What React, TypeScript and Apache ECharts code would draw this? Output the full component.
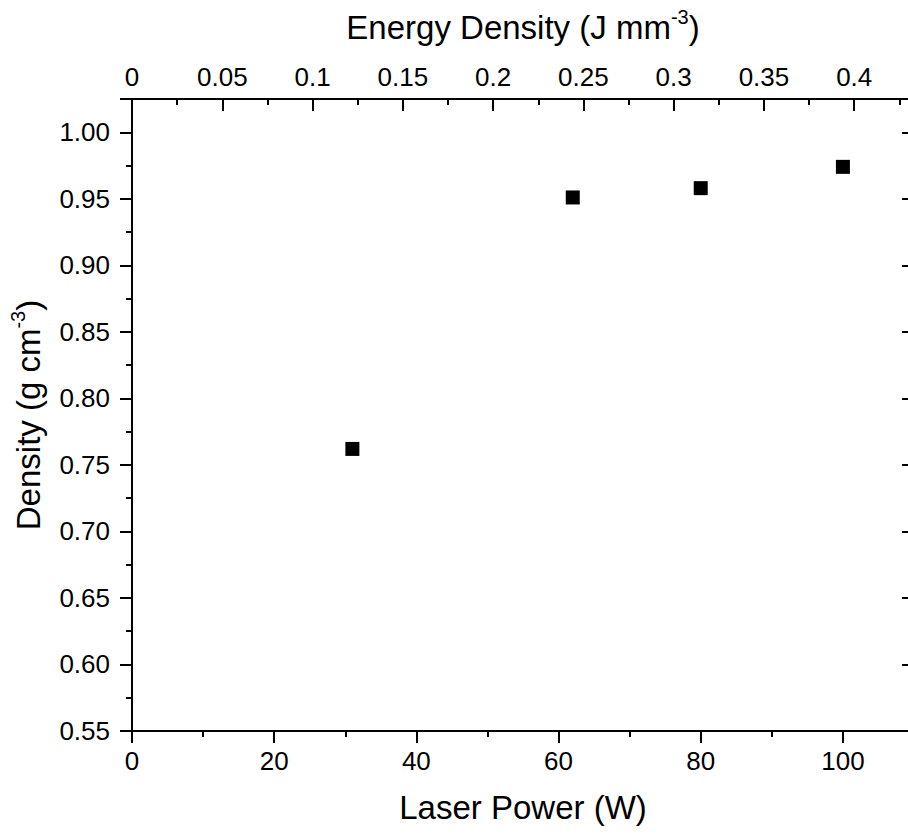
import React, { useEffect, useRef } from "react";
import * as echarts from "echarts";

const laserPower = [31, 62, 80, 100];
const density = [0.762, 0.951, 0.958, 0.974];
const xRange = [0, 110];
const yRange = [0.55, 1.025];
const topRange = [0, 0.4331];

const FONT = "'Liberation Sans', Arial, Helvetica, sans-serif";

export default function App() {
  const ref = useRef<HTMLDivElement>(null);
  useEffect(() => {
    if (!ref.current) return;
    const chart = echarts.init(ref.current, null, { renderer: "svg" });
    const axisLine = { show: true, onZero: false, lineStyle: { color: "#000", width: 2 } };
    const tick = (inside: boolean, show = true) => ({ show, inside, length: 12, lineStyle: { color: "#000", width: 2 } });
    const minor = (show = true) => ({ show, splitNumber: 2, length: 6, lineStyle: { color: "#000", width: 2 } });
    const label = { color: "#000", fontSize: 26, fontFamily: FONT };
    const nameStyle = {
      color: "#000",
      fontFamily: FONT,
      fontSize: 33,
      rich: {
        a: { fontSize: 33, fontFamily: FONT, color: "#000", lineHeight: 40 },
        s: { fontSize: 20, fontFamily: FONT, color: "#000", verticalAlign: "top", lineHeight: 40 },
      },
    };
    chart.setOption({
      animation: false,
      backgroundColor: "#fff",
      grid: { left: 129, top: 99, right: 6, bottom: 104, containLabel: false },
      xAxis: [
        {
          type: "value",
          position: "bottom",
          min: xRange[0],
          max: xRange[1],
          interval: 20,
          axisLine,
          axisTick: tick(false),
          minorTick: minor(),
          splitLine: { show: false },
          minorSplitLine: { show: false },
          axisLabel: { ...label, margin: 17, showMaxLabel: false },
          name: "{a|Laser Power (W)}",
          nameLocation: "middle",
          nameGap: 56,
          nameTextStyle: nameStyle,
        },
        {
          type: "value",
          position: "top",
          min: topRange[0],
          max: topRange[1],
          interval: 0.05,
          axisLine,
          axisTick: tick(true),
          minorTick: minor(),
          splitLine: { show: false },
          axisLabel: { ...label, margin: 9, showMaxLabel: false },
          name: "{a|Energy Density (J mm}{s|-3}{a|)}",
          nameLocation: "middle",
          nameGap: 52,
          nameTextStyle: nameStyle,
        },
      ],
      yAxis: [
        {
          type: "value",
          position: "left",
          min: yRange[0],
          max: yRange[1],
          interval: 0.05,
          axisLine,
          axisTick: tick(false),
          minorTick: minor(),
          splitLine: { show: false },
          axisLabel: { ...label, margin: 22, showMaxLabel: false, formatter: (v: number) => v.toFixed(2) },
          name: "{a|Density (g cm}{s|-3}{a|)}",
          nameLocation: "middle",
          nameGap: 84,
          nameTextStyle: nameStyle,
        },
        {
          type: "value",
          position: "right",
          min: yRange[0],
          max: yRange[1],
          interval: 0.05,
          axisLine,
          axisTick: tick(true),
          minorTick: minor(),
          splitLine: { show: false },
          axisLabel: { show: false },
        },
      ],
      series: [
        {
          type: "scatter",
          xAxisIndex: 0,
          yAxisIndex: 0,
          symbol: "rect",
          symbolSize: 14,
          itemStyle: { color: "#000", opacity: 1 },
          data: laserPower.map((p, i) => [p, density[i]]),
        },
      ],
    });
    return () => chart.dispose();
  }, []);
  return (
    <div style={{ position: "absolute", left: 0, top: 0, width: 908, height: 835, overflow: "hidden", background: "#fff" }}>
      <div ref={ref} style={{ width: 920, height: 835 }} />
    </div>
  );
}
